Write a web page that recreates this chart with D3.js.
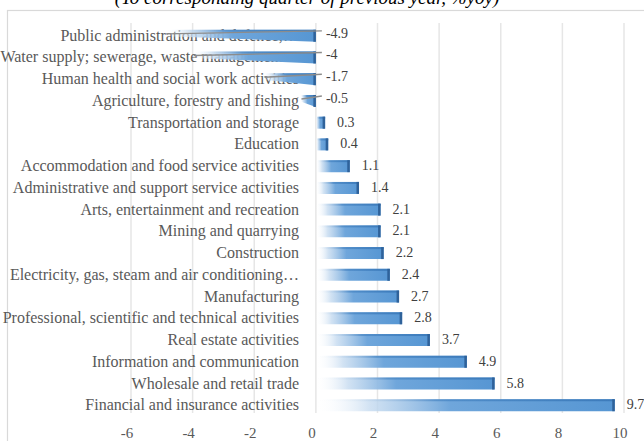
<!DOCTYPE html>
<html>
<head>
<meta charset="utf-8">
<script src="https://cdn.jsdelivr.net/npm/d3@7"></script>
<style>
  body { margin: 0; background: #fff; }
  svg { display: block; font-family: "Liberation Serif", "Times New Roman", serif; }
</style>
</head>
<body>
<div id="chart"></div>
<script>
const categories = [
  "Public administration and defence;\u2026",
  "Water supply; sewerage, waste management\u2026",
  "Human health and social work activities",
  "Agriculture, forestry and fishing",
  "Transportation and storage",
  "Education",
  "Accommodation and food service activities",
  "Administrative and support service activities",
  "Arts, entertainment and recreation",
  "Mining and quarrying",
  "Construction",
  "Electricity, gas, steam and air conditioning\u2026",
  "Manufacturing",
  "Professional, scientific and technical activities",
  "Real estate activities",
  "Information and communication",
  "Wholesale and retail trade",
  "Financial and insurance activities"
];
const values = [-4.9, -4, -1.7, -0.5, 0.3, 0.4, 1.1, 1.4, 2.1, 2.1, 2.2, 2.4, 2.7, 2.8, 3.7, 4.9, 5.8, 9.7];
const xTicks = [-6, -4, -2, 0, 2, 4, 6, 8, 10];
const title = "(To corresponding quarter of previous year, %yoy)";

const W = 644, H = 441;
const svg = d3.select("#chart").append("svg").attr("width", W).attr("height", H);

const x = d3.scaleLinear().domain([-6, 10]).range([131, 624]);
const y = d3.scaleBand().domain(categories).range([25, 416]).paddingInner(0.45).paddingOuter(0.22);

// gradients
const defs = svg.append("defs");
const g1 = defs.append("linearGradient").attr("id", "barGrad").attr("x1", 0).attr("x2", 1).attr("y1", 0).attr("y2", 0);
g1.append("stop").attr("offset", "0%").attr("stop-color", "#ffffff").attr("stop-opacity", 0);
g1.append("stop").attr("offset", "18%").attr("stop-color", "#c6dbf0").attr("stop-opacity", 0.8);
g1.append("stop").attr("offset", "45%").attr("stop-color", "#6fa6db");
g1.append("stop").attr("offset", "100%").attr("stop-color", "#5696d3");
const g2 = defs.append("linearGradient").attr("id", "topGrad").attr("x1", 0).attr("x2", 1).attr("y1", 0).attr("y2", 0);
g2.append("stop").attr("offset", "0%").attr("stop-color", "#ffffff").attr("stop-opacity", 0);
g2.append("stop").attr("offset", "40%").attr("stop-color", "#3f7fbf").attr("stop-opacity", 0.6);
g2.append("stop").attr("offset", "100%").attr("stop-color", "#3a78b8").attr("stop-opacity", 0.9);

// chart border
svg.append("rect").attr("x", 7.5).attr("y", 10.5).attr("width", W).attr("height", H)
  .attr("fill", "none").attr("stroke", "#d9d9d9").attr("stroke-width", 1.2);

// title (cut at top edge as in the source)
svg.append("text").attr("x", 307).attr("y", 4).attr("text-anchor", "middle")
  .style("font-style", "italic").style("font-size", "19px").attr("fill", "#000")
  .text(title);

// gridlines
svg.append("g").selectAll("line").data(xTicks).join("line")
  .attr("x1", d => x(d)).attr("x2", d => x(d))
  .attr("y1", 23).attr("y2", 413)
  .attr("stroke", "#e6e6e6").attr("stroke-width", 1.5);

// tick labels
svg.append("g").selectAll("text").data(xTicks).join("text")
  .attr("x", d => x(d) - 4).attr("y", 438)
  .attr("text-anchor", "middle").attr("fill", "#595959").style("font-size", "15px")
  .text(d => d);

// category labels
svg.append("g").selectAll("text").data(categories).join("text")
  .attr("x", 299).attr("y", d => y(d) + y.bandwidth() / 2 + 5)
  .attr("text-anchor", "end").attr("fill", "#595959").style("font-size", "16px")
  .text(d => d);

const rows = categories.map((c, i) => ({ c, v: values[i] }));

// bars (negative ones taper toward their far end, like the 3D perspective in the source)
const bars = svg.append("g").selectAll("g").data(rows).join("g");
bars.append("path")
  .attr("d", d => {
    const t = y(d.c), h = y.bandwidth(), x0 = x(0), xv = x(d.v);
    if (d.v >= 0) return `M${x0},${t}H${xv}V${t + h}H${x0}Z`;
    return `M${xv},${t}H${x0}V${t + h}L${xv},${t + h * 0.55}Z`;
  })
  .attr("fill", "url(#barGrad)");
bars.append("rect")
  .attr("x", d => Math.min(x(0), x(d.v)))
  .attr("y", d => y(d.c))
  .attr("width", d => Math.abs(x(d.v) - x(0)))
  .attr("height", 2)
  .attr("fill", "url(#topGrad)");
bars.append("rect")
  .attr("x", d => Math.max(x(0), x(d.v)) - 2.5)
  .attr("y", d => y(d.c))
  .attr("width", 2.5)
  .attr("height", y.bandwidth())
  .attr("fill", "#2f629a");

// leader lines for negative values
bars.filter(d => d.v < 0).append("path")
  .attr("d", d => {
    const yc = y(d.c) + 2;
    return d3.line()([[x(d.v) + 1, yc + 2], [x(0) + 6, yc - 1]]);
  })
  .attr("fill", "none").attr("stroke", "#8c8c8c").attr("stroke-width", 1.3);

// value labels
bars.append("text")
  .attr("x", d => d.v < 0 ? x(0) + 10 : x(d.v) + 12)
  .attr("y", d => y(d.c) + y.bandwidth() / 2 + (d.v < 0 ? 2 : 4))
  .attr("fill", "#404040").style("font-size", "14px")
  .text(d => d.v);
</script>
</body>
</html>
